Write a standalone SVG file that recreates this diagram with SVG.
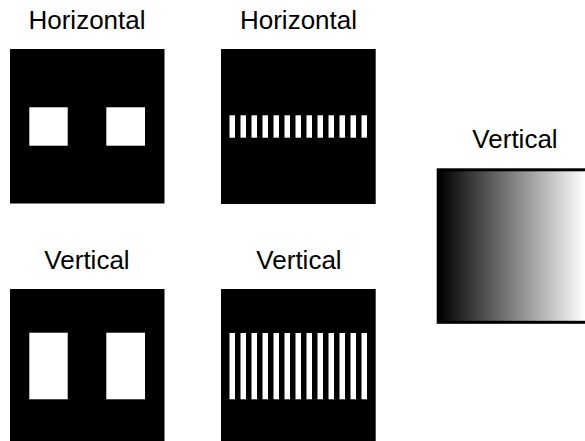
<svg xmlns="http://www.w3.org/2000/svg" width="585" height="441" viewBox="0 0 585 441">
  <style>
    .lbl { font-family: "Liberation Sans", Arial, sans-serif; font-size: 26px; fill: #000; text-anchor: middle; }
    .bg { fill: #000; }
    .hole { fill: #fff; }
  </style>
  <defs>
    <linearGradient id="grad" gradientUnits="userSpaceOnUse" x1="439" y1="0" x2="585" y2="0">
      <stop offset="0" stop-color="#000"/>
      <stop offset="1" stop-color="#fff"/>
    </linearGradient>
    <g id="hbars">
      <rect x="0" y="0" width="5.5" height="1"/>
      <rect x="11" y="0" width="5.5" height="1"/>
      <rect x="22" y="0" width="5.5" height="1"/>
      <rect x="33" y="0" width="5.5" height="1"/>
      <rect x="44" y="0" width="5.5" height="1"/>
      <rect x="55" y="0" width="5.5" height="1"/>
      <rect x="66" y="0" width="5.5" height="1"/>
      <rect x="77" y="0" width="5.5" height="1"/>
      <rect x="88" y="0" width="5.5" height="1"/>
      <rect x="99" y="0" width="5.5" height="1"/>
      <rect x="110" y="0" width="5.5" height="1"/>
      <rect x="121" y="0" width="5.5" height="1"/>
      <rect x="132" y="0" width="5.5" height="1"/>
    </g>
  </defs>

  <g id="node-horizontal-squares">
    <text class="lbl" x="87" y="28.5">Horizontal</text>
    <rect class="bg" x="10" y="49" width="154.5" height="154.5"/>
    <rect class="hole" x="29.3" y="107.3" width="38.4" height="38.4"/>
    <rect class="hole" x="106.3" y="107.3" width="38.7" height="38.4"/>
  </g>

  <g id="node-horizontal-bars">
    <text class="lbl" x="298.5" y="28.5">Horizontal</text>
    <rect class="bg" x="221" y="49" width="154.7" height="155"/>
    <use href="#hbars" fill="#fff" transform="translate(229.5,115.3) scale(1,22.4)"/>
  </g>

  <g id="node-vertical-rects">
    <text class="lbl" x="87" y="269">Vertical</text>
    <rect class="bg" x="10" y="289" width="154.5" height="154.5"/>
    <rect class="hole" x="29.3" y="332.7" width="38.4" height="66.6"/>
    <rect class="hole" x="106.3" y="332.7" width="38.7" height="66.6"/>
  </g>

  <g id="node-vertical-bars">
    <text class="lbl" x="299" y="269">Vertical</text>
    <rect class="bg" x="221" y="289" width="154.7" height="155"/>
    <use href="#hbars" fill="#fff" transform="translate(229.5,333) scale(1,66.3)"/>
  </g>

  <g id="node-vertical-gradient">
    <text class="lbl" x="515" y="148.3">Vertical</text>
    <rect x="438.2" y="169.8" width="156" height="152.5" fill="url(#grad)" stroke="#000" stroke-width="3"/>
  </g>

  <g id="connectors"></g>
</svg>
